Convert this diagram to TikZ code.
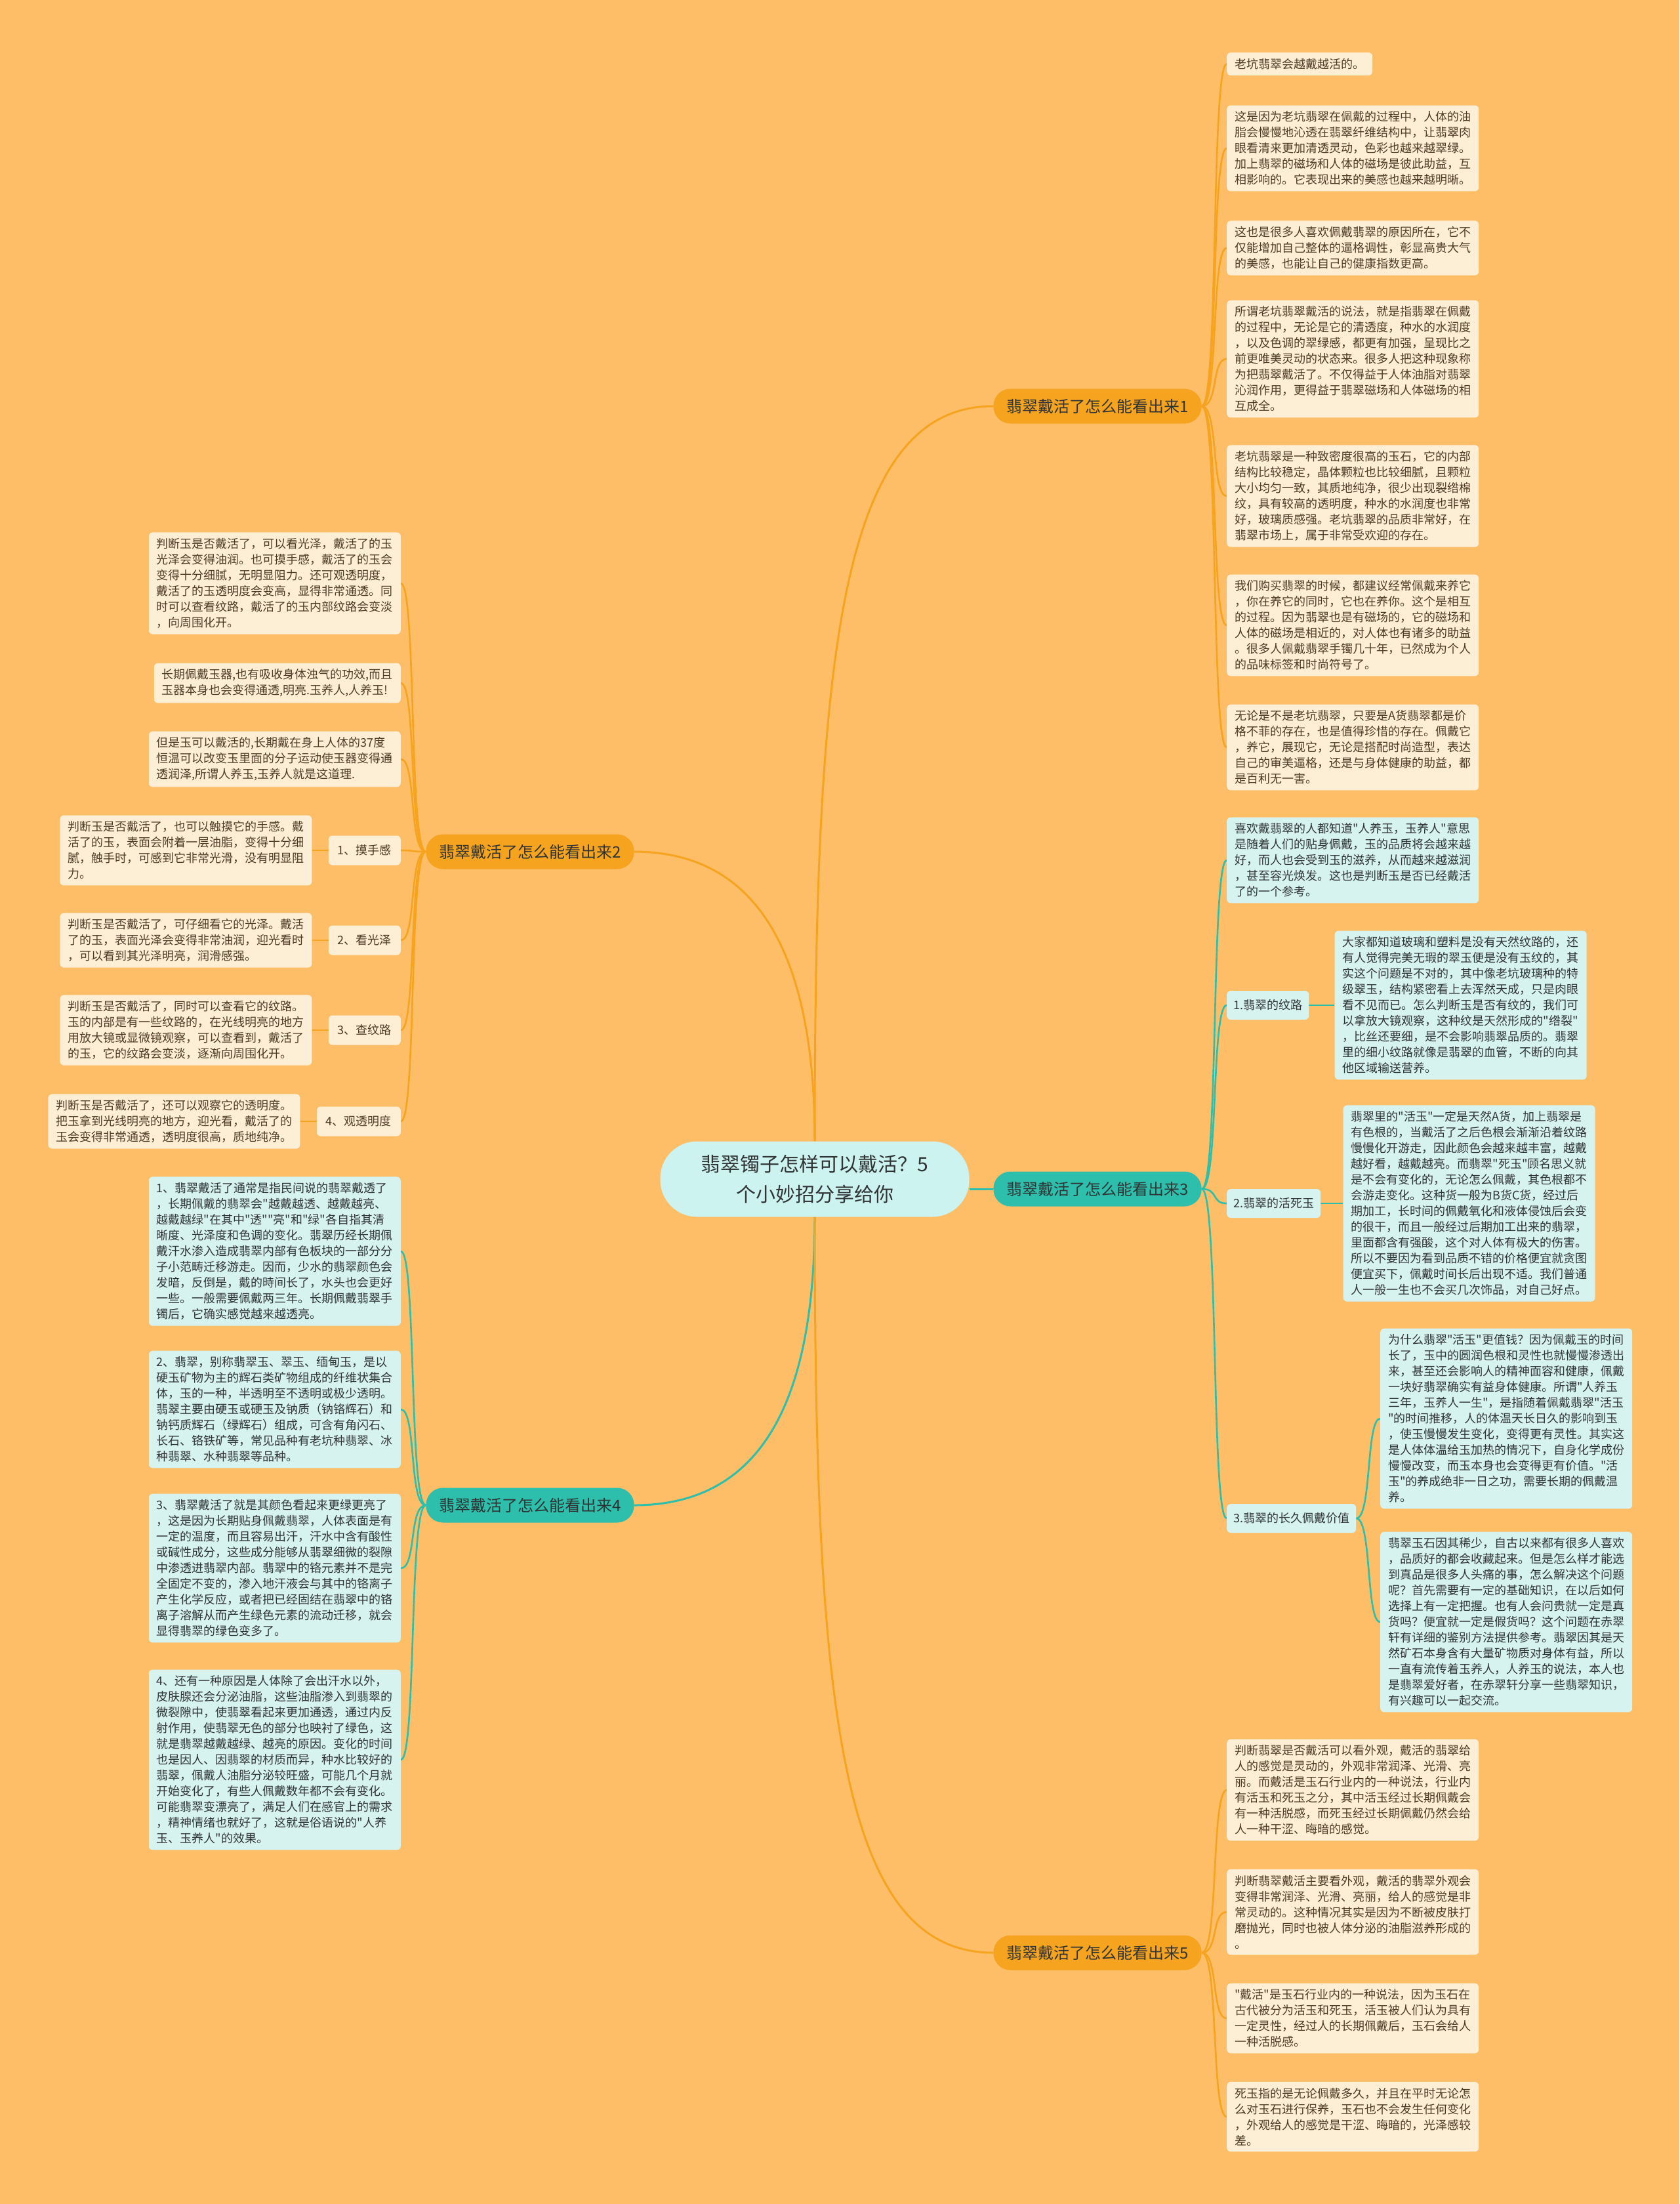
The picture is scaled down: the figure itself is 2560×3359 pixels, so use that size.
\documentclass[tikz,border=0pt]{standalone}
\usepackage{fontspec}
\setmainfont{Noto Sans CJK SC}[Ligatures=TeXOff]
\definecolor{bgc}{RGB}{253,190,103}
\definecolor{orng}{RGB}{246,164,32}
\definecolor{tealc}{RGB}{45,191,171}
\definecolor{cream}{RGB}{253,239,214}
\definecolor{cyanbox}{RGB}{214,243,239}
\definecolor{centerfill}{RGB}{205,243,240}
\definecolor{txtbrown}{RGB}{78,58,38}
\definecolor{txtdark}{RGB}{48,52,52}
\newcommand\fsmall{\fontsize{18}{24}\selectfont}
\newcommand\fbranch{\fontsize{24}{30}\selectfont}
\newcommand\fcenter{\fontsize{30}{46}\selectfont}
\pgfdeclarelayer{bgl}
\pgfdeclarelayer{edges}
\pgfsetlayers{bgl,edges,main}
\begin{document}
\begin{tikzpicture}[x=1pt,y=-1pt,
  leafO/.style={fill=cream,text=txtbrown,rounded corners=6pt,inner xsep=12pt,inner ysep=9pt,align=left,font=\fsmall},
  leafT/.style={fill=cyanbox,text=txtdark,rounded corners=6pt,inner xsep=12pt,inner ysep=9pt,align=left,font=\fsmall},
  subO/.style={fill=cream,text=txtbrown,rounded corners=6pt,inner xsep=14pt,minimum height=45pt,font=\fsmall},
  subT/.style={fill=cyanbox,text=txtdark,rounded corners=6pt,inner xsep=10pt,minimum height=44pt,font=\fsmall},
  mainO/.style={fill=orng,text=txtdark,rounded corners=26pt,inner xsep=20pt,minimum height=53pt,font=\fbranch},
  mainT/.style={fill=tealc,text=txtdark,rounded corners=26pt,inner xsep=20pt,minimum height=53pt,font=\fbranch},
  centerst/.style={fill=centerfill,text=txtdark,rounded corners=56pt,minimum width=471pt,minimum height=115pt,align=center,font=\fcenter},
  oline/.style={draw=orng,line width=2.6pt},
  tline/.style={draw=tealc,line width=2.6pt},
  omain/.style={draw=orng,line width=3pt},
  tmain/.style={draw=tealc,line width=3pt}]
\begin{pgfonlayer}{bgl}
\fill[bgc] (0,0) rectangle (2560,3359);
\end{pgfonlayer}
\useasboundingbox (0,0) rectangle (2560,3359);

% center and main branches
\node[centerst] (c) at (1242,1797) {翡翠镯子怎样可以戴活？5\\个小妙招分享给你};
\node[mainO] (b1) at (1673,619) {翡翠戴活了怎么能看出来1};
\node[mainO] (b2) at (808,1298) {翡翠戴活了怎么能看出来2};
\node[mainT] (b3) at (1673,1812) {翡翠戴活了怎么能看出来3};
\node[mainT] (b4) at (808,2294) {翡翠戴活了怎么能看出来4};
\node[mainO] (b5) at (1673,2976) {翡翠戴活了怎么能看出来5};

% branch 1
\node[leafO,anchor=west] (r1a) at (1870,97.5) {老坑翡翠会越戴越活的。};
\node[leafO,anchor=west] (r1b) at (1870,226) {这是因为老坑翡翠在佩戴的过程中，人体的油\\脂会慢慢地沁透在翡翠纤维结构中，让翡翠肉\\眼看清来更加清透灵动，色彩也越来越翠绿。\\加上翡翠的磁场和人体的磁场是彼此助益，互\\相影响的。它表现出来的美感也越来越明晰。};
\node[leafO,anchor=west] (r1c) at (1870,378) {这也是很多人喜欢佩戴翡翠的原因所在，它不\\仅能增加自己整体的逼格调性，彰显高贵大气\\的美感，也能让自己的健康指数更高。};
\node[leafO,anchor=west] (r1d) at (1870,547) {所谓老坑翡翠戴活的说法，就是指翡翠在佩戴\\的过程中，无论是它的清透度，种水的水润度\\，以及色调的翠绿感，都更有加强，呈现比之\\前更唯美灵动的状态来。很多人把这种现象称\\为把翡翠戴活了。不仅得益于人体油脂对翡翠\\沁润作用，更得益于翡翠磁场和人体磁场的相\\互成全。};
\node[leafO,anchor=west] (r1e) at (1870,756) {老坑翡翠是一种致密度很高的玉石，它的内部\\结构比较稳定，晶体颗粒也比较细腻，且颗粒\\大小均匀一致，其质地纯净，很少出现裂绺棉\\纹，具有较高的透明度，种水的水润度也非常\\好，玻璃质感强。老坑翡翠的品质非常好，在\\翡翠市场上，属于非常受欢迎的存在。};
\node[leafO,anchor=west] (r1f) at (1870,953) {我们购买翡翠的时候，都建议经常佩戴来养它\\，你在养它的同时，它也在养你。这个是相互\\的过程。因为翡翠也是有磁场的，它的磁场和\\人体的磁场是相近的，对人体也有诸多的助益\\。很多人佩戴翡翠手镯几十年，已然成为个人\\的品味标签和时尚符号了。};
\node[leafO,anchor=west] (r1g) at (1870,1139) {无论是不是老坑翡翠，只要是A货翡翠都是价\\格不菲的存在，也是值得珍惜的存在。佩戴它\\，养它，展现它，无论是搭配时尚造型，表达\\自己的审美逼格，还是与身体健康的助益，都\\是百利无一害。};

% branch 3
\node[leafT,anchor=west] (r3i) at (1870,1311) {喜欢戴翡翠的人都知道"人养玉，玉养人"意思\\是随着人们的贴身佩戴，玉的品质将会越来越\\好，而人也会受到玉的滋养，从而越来越滋润\\，甚至容光焕发。这也是判断玉是否已经戴活\\了的一个参考。};
\node[subT,anchor=west] (s31) at (1870,1532) {1.翡翠的纹路};
\node[leafT,anchor=west] (r31) at ([xshift=39pt]s31.east) {大家都知道玻璃和塑料是没有天然纹路的，还\\有人觉得完美无瑕的翠玉便是没有玉纹的，其\\实这个问题是不对的，其中像老坑玻璃种的特\\级翠玉，结构紧密看上去浑然天成，只是肉眼\\看不见而已。怎么判断玉是否有纹的，我们可\\以拿放大镜观察，这种纹是天然形成的"绺裂"\\，比丝还要细，是不会影响翡翠品质的。翡翠\\里的细小纹路就像是翡翠的血管，不断的向其\\他区域输送营养。};
\node[subT,anchor=west] (s32) at (1870,1834) {2.翡翠的活死玉};
\node[leafT,anchor=west] (r32) at ([xshift=34pt]s32.east) {翡翠里的"活玉"一定是天然A货，加上翡翠是\\有色根的，当戴活了之后色根会渐渐沿着纹路\\慢慢化开游走，因此颜色会越来越丰富，越戴\\越好看，越戴越亮。而翡翠"死玉"顾名思义就\\是不会有变化的，无论怎么佩戴，其色根都不\\会游走变化。这种货一般为B货C货，经过后\\期加工，长时间的佩戴氧化和液体侵蚀后会变\\的很干，而且一般经过后期加工出来的翡翠，\\里面都含有强酸，这个对人体有极大的伤害。\\所以不要因为看到品质不错的价格便宜就贪图\\便宜买下，佩戴时间长后出现不适。我们普通\\人一般一生也不会买几次饰品，对自己好点。};
\node[subT,anchor=west] (s33) at (1870,2314) {3.翡翠的长久佩戴价值};
\node[leafT,anchor=west] (r33a) at (2104,2162) {为什么翡翠"活玉"更值钱？因为佩戴玉的时间\\长了，玉中的圆润色根和灵性也就慢慢渗透出\\来，甚至还会影响人的精神面容和健康，佩戴\\一块好翡翠确实有益身体健康。所谓"人养玉\\三年，玉养人一生"，是指随着佩戴翡翠"活玉\\"的时间推移，人的体温天长日久的影响到玉\\，使玉慢慢发生变化，变得更有灵性。其实这\\是人体体温给玉加热的情况下，自身化学成份\\慢慢改变，而玉本身也会变得更有价值。"活\\玉"的养成绝非一日之功，需要长期的佩戴温\\养。};
\node[leafT,anchor=west] (r33b) at (2104,2472) {翡翠玉石因其稀少，自古以来都有很多人喜欢\\，品质好的都会收藏起来。但是怎么样才能选\\到真品是很多人头痛的事，怎么解决这个问题\\呢？首先需要有一定的基础知识，在以后如何\\选择上有一定把握。也有人会问贵就一定是真\\货吗？便宜就一定是假货吗？这个问题在赤翠\\轩有详细的鉴别方法提供参考。翡翠因其是天\\然矿石本身含有大量矿物质对身体有益，所以\\一直有流传着玉养人，人养玉的说法，本人也\\是翡翠爱好者，在赤翠轩分享一些翡翠知识，\\有兴趣可以一起交流。};

% branch 5
\node[leafO,anchor=west] (r5a) at (1870,2728) {判断翡翠是否戴活可以看外观，戴活的翡翠给\\人的感觉是灵动的，外观非常润泽、光滑、亮\\丽。而戴活是玉石行业内的一种说法，行业内\\有活玉和死玉之分，其中活玉经过长期佩戴会\\有一种活脱感，而死玉经过长期佩戴仍然会给\\人一种干涩、晦暗的感觉。};
\node[leafO,anchor=west] (r5b) at (1870,2914) {判断翡翠戴活主要看外观，戴活的翡翠外观会\\变得非常润泽、光滑、亮丽，给人的感觉是非\\常灵动的。这种情况其实是因为不断被皮肤打\\磨抛光，同时也被人体分泌的油脂滋养形成的\\。};
\node[leafO,anchor=west] (r5c) at (1870,3076) {"戴活"是玉石行业内的一种说法，因为玉石在\\古代被分为活玉和死玉，活玉被人们认为具有\\一定灵性，经过人的长期佩戴后，玉石会给人\\一种活脱感。};
\node[leafO,anchor=west] (r5d) at (1870,3226) {死玉指的是无论佩戴多久，并且在平时无论怎\\么对玉石进行保养，玉石也不会发生任何变化\\，外观给人的感觉是干涩、晦暗的，光泽感较\\差。};

% branch 2
\node[leafO,anchor=east] (l2a) at (611,889) {判断玉是否戴活了，可以看光泽，戴活了的玉\\光泽会变得油润。也可摸手感，戴活了的玉会\\变得十分细腻，无明显阻力。还可观透明度，\\戴活了的玉透明度会变高，显得非常通透。同\\时可以查看纹路，戴活了的玉内部纹路会变淡\\，向周围化开。};
\node[leafO,anchor=east] (l2b) at (611,1041) {长期佩戴玉器,也有吸收身体浊气的功效,而且\\玉器本身也会变得通透,明亮.玉养人,人养玉!};
\node[leafO,anchor=east] (l2c) at (611,1157) {但是玉可以戴活的,长期戴在身上人体的37度\\恒温可以改变玉里面的分子运动使玉器变得通\\透润泽,所谓人养玉,玉养人就是这道理.};
\node[subO,anchor=east] (s21) at (611,1296) {1、摸手感};
\node[leafO,anchor=east] (l21) at ([xshift=-25pt]s21.west) {判断玉是否戴活了，也可以触摸它的手感。戴\\活了的玉，表面会附着一层油脂，变得十分细\\腻，触手时，可感到它非常光滑，没有明显阻\\力。};
\node[subO,anchor=east] (s22) at (611,1433) {2、看光泽};
\node[leafO,anchor=east] (l22) at ([xshift=-25pt]s22.west) {判断玉是否戴活了，可仔细看它的光泽。戴活\\了的玉，表面光泽会变得非常油润，迎光看时\\，可以看到其光泽明亮，润滑感强。};
\node[subO,anchor=east] (s23) at (611,1570) {3、查纹路};
\node[leafO,anchor=east] (l23) at ([xshift=-25pt]s23.west) {判断玉是否戴活了，同时可以查看它的纹路。\\玉的内部是有一些纹路的，在光线明亮的地方\\用放大镜或显微镜观察，可以查看到，戴活了\\的玉，它的纹路会变淡，逐渐向周围化开。};
\node[subO,anchor=east] (s24) at (611,1709) {4、观透明度};
\node[leafO,anchor=east] (l24) at ([xshift=-25pt]s24.west) {判断玉是否戴活了，还可以观察它的透明度。\\把玉拿到光线明亮的地方，迎光看，戴活了的\\玉会变得非常通透，透明度很高，质地纯净。};

% branch 4
\node[leafT,anchor=east] (l4a) at (611,1907) {1、翡翠戴活了通常是指民间说的翡翠戴透了\\，长期佩戴的翡翠会"越戴越透、越戴越亮、\\越戴越绿"在其中"透""亮"和"绿"各自指其清\\晰度、光泽度和色调的变化。翡翠历经长期佩\\戴汗水渗入造成翡翠内部有色板块的一部分分\\子小范畴迁移游走。因而，少水的翡翠颜色会\\发暗，反倒是，戴的時间长了，水头也会更好\\一些。一般需要佩戴两三年。长期佩戴翡翠手\\镯后，它确实感觉越来越透亮。};
\node[leafT,anchor=east] (l4b) at (611,2148) {2、翡翠，别称翡翠玉、翠玉、缅甸玉，是以\\硬玉矿物为主的辉石类矿物组成的纤维状集合\\体，玉的一种，半透明至不透明或极少透明。\\翡翠主要由硬玉或硬玉及钠质（钠铬辉石）和\\钠钙质辉石（绿辉石）组成，可含有角闪石、\\长石、铬铁矿等，常见品种有老坑种翡翠、冰\\种翡翠、水种翡翠等品种。};
\node[leafT,anchor=east] (l4c) at (611,2390) {3、翡翠戴活了就是其颜色看起来更绿更亮了\\，这是因为长期贴身佩戴翡翠，人体表面是有\\一定的温度，而且容易出汗，汗水中含有酸性\\或碱性成分，这些成分能够从翡翠细微的裂隙\\中渗透进翡翠内部。翡翠中的铬元素并不是完\\全固定不变的，渗入地汗液会与其中的铬离子\\产生化学反应，或者把已经固结在翡翠中的铬\\离子溶解从而产生绿色元素的流动迁移，就会\\显得翡翠的绿色变多了。};
\node[leafT,anchor=east] (l4d) at (611,2682) {4、还有一种原因是人体除了会出汗水以外，\\皮肤腺还会分泌油脂，这些油脂渗入到翡翠的\\微裂隙中，使翡翠看起来更加通透，通过内反\\射作用，使翡翠无色的部分也映衬了绿色，这\\就是翡翠越戴越绿、越亮的原因。变化的时间\\也是因人、因翡翠的材质而异，种水比较好的\\翡翠，佩戴人油脂分泌较旺盛，可能几个月就\\开始变化了，有些人佩戴数年都不会有变化。\\可能翡翠变漂亮了，满足人们在感官上的需求\\，精神情绪也就好了，这就是俗语说的"人养\\玉、玉养人"的效果。};

\begin{pgfonlayer}{edges}
% center to branches
\draw[omain] (c.north) .. controls (1242,1000) and (1280,619) .. (b1.west);
\draw[omain] (c.north) .. controls (1242,1480) and (1170,1298) .. (b2.east);
\draw[tmain] (b3.west) -- (b3.west -| c.east);
\draw[tmain] (c.south) .. controls (1242,2120) and (1170,2294) .. (b4.east);
\draw[omain] (c.south) .. controls (1242,2600) and (1280,2976) .. (b5.west);
% branch 1
\foreach \n in {r1a,r1b,r1c,r1d,r1e,r1f,r1g}
  \draw[oline] (b1.east) .. controls +(26,0) and +(-24,0) .. (\n.west);
% branch 3
\foreach \n in {r3i,s31,s32,s33}
  \draw[tline] (b3.east) .. controls +(26,0) and +(-24,0) .. (\n.west);
\draw[tline] (s31.east) -- (s31.east -| r31.west);
\draw[tline] (s32.east) -- (s32.east -| r32.west);
\foreach \n in {r33a,r33b}
  \draw[tline] (s33.east) .. controls +(24,0) and +(-22,0) .. (\n.west);
% branch 5
\foreach \n in {r5a,r5b,r5c,r5d}
  \draw[oline] (b5.east) .. controls +(26,0) and +(-24,0) .. (\n.west);
% branch 2
\foreach \n in {l2a,l2b,l2c,s21,s22,s23,s24}
  \draw[oline] (b2.west) .. controls +(-26,0) and +(24,0) .. (\n.east);
\draw[oline] (s21.west) -- (s21.west -| l21.east);
\draw[oline] (s22.west) -- (s22.west -| l22.east);
\draw[oline] (s23.west) -- (s23.west -| l23.east);
\draw[oline] (s24.west) -- (s24.west -| l24.east);
% branch 4
\foreach \n in {l4a,l4b,l4c,l4d}
  \draw[tline] (b4.west) .. controls +(-26,0) and +(24,0) .. (\n.east);
\end{pgfonlayer}
\end{tikzpicture}
\end{document}
